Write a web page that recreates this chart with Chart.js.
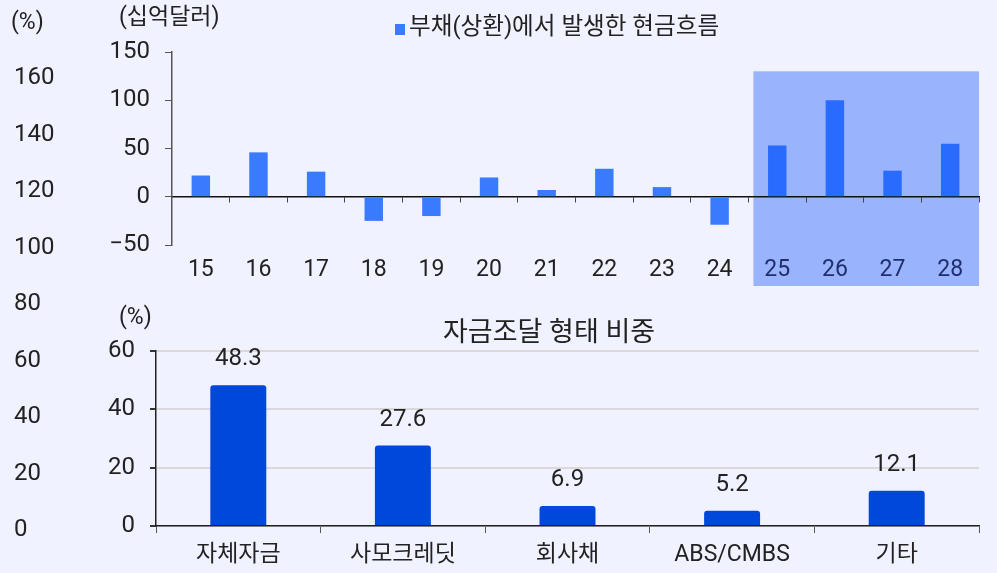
<!DOCTYPE html>
<html lang="ko">
<head>
<meta charset="utf-8">
<script src="https://cdn.jsdelivr.net/npm/chart.js@4.4.1/dist/chart.umd.min.js"></script>
<style>
  body { margin: 0; background: #f0f3ff; font-family: Roboto, "Noto Sans CJK KR", sans-serif; color: #222; }
  #wrap { position: relative; width: 997px; height: 573px; overflow: hidden; }
  canvas { position: absolute; }
  .lbl { position: absolute; white-space: nowrap; line-height: 1; }
  .sq { position: absolute; width: 10px; height: 11px; }
</style>
</head>
<body>
<div id="wrap">
  <canvas id="leftAxis" width="130" height="573" style="left:0;top:0"></canvas>
  <canvas id="cashChart" width="997" height="290" style="left:0;top:0"></canvas>
  <canvas id="shareChart" width="997" height="283" style="left:0;top:290px"></canvas>

  <div class="lbl" style="left:11px;top:10px;font-size:23px">(%)</div>
  <div class="lbl" style="left:119px;top:5px;font-size:23px">(십억달러)</div>
  <div class="sq" id="legendBox" style="left:395px;top:24px"></div>
  <div class="lbl" style="left:409px;top:15px;font-size:23.6px">부채(상환)에서 발생한 현금흐름</div>
  <div class="lbl" style="left:119px;top:305px;font-size:23px">(%)</div>
  <div class="lbl" style="left:443px;top:319px;font-size:27px">자금조달 형태 비중</div>
</div>
<script>
const years = ['15', '16', '17', '18', '19', '20', '21', '22', '23', '24', '25', '26', '27', '28'];
const cashFlow = [22, 46, 26, -25, -20, 20, 7, 29, 10, -29, 53, 100, 27, 55];
const cashTicks = [-50, 0, 50, 100, 150];

const sources = ['자체자금', '사모크레딧', '회사채', 'ABS/CMBS', '기타'];
const shares = [48.3, 27.6, 6.9, 5.2, 12.1];
const shareTicks = [0, 20, 40, 60];

const leftTicks = [0, 20, 40, 60, 80, 100, 120, 140, 160];

const HIGHLIGHT_FROM = 10;   // year 25 onward
const HIGHLIGHT_TOP = 130;
const BAR_BLUE = '#3a7bfd';
const BAR_BLUE_HL = '#2a6bff';
const SHARE_BLUE = '#0047dc';
const TXT = '#222';
const FONT = 'Roboto, "Noto Sans CJK KR", sans-serif';

document.getElementById('legendBox').style.background = BAR_BLUE;

// shaded forecast region behind the top chart
const highlightBox = {
    id: 'highlightBox',
    beforeDraw(chart) {
        const x = chart.scales.x, y = chart.scales.y;
        const half = (x.getPixelForValue(1) - x.getPixelForValue(0)) / 2;
        const left = x.getPixelForValue(HIGHLIGHT_FROM) - half + 5;
        const top = y.getPixelForValue(HIGHLIGHT_TOP);
        const ctx = chart.ctx;
        ctx.save();
        ctx.fillStyle = '#99b3fc';
        ctx.fillRect(left, top, chart.chartArea.right - left, chart.height - 4 - top);
        ctx.restore();
    }
};

// numbers above the bars in the bottom chart
const valueLabels = {
    id: 'valueLabels',
    afterDatasetsDraw(chart) {
        const ctx = chart.ctx;
        const meta = chart.getDatasetMeta(0);
        ctx.save();
        ctx.font = '24px ' + FONT;
        ctx.fillStyle = TXT;
        ctx.textAlign = 'center';
        ctx.textBaseline = 'alphabetic';
        meta.data.forEach((bar, i) => {
            ctx.fillText(shares[i].toFixed(1), bar.x, bar.y - 20);
        });
        ctx.restore();
    }
};

function createLeftAxis() {
    new Chart(document.getElementById('leftAxis'), {
        type: 'line',
        data: { labels: [], datasets: [] },
        options: {
            responsive: false,
            animation: false,
            layout: { padding: { left: 14, top: 78, bottom: 43, right: 0 } },
            plugins: { legend: { display: false }, tooltip: { enabled: false } },
            scales: {
                x: { display: false },
                y: {
                    min: leftTicks[0],
                    max: leftTicks[leftTicks.length - 1],
                    afterBuildTicks: s => { s.ticks = leftTicks.map(v => ({ value: v })); },
                    afterFit: s => { s.width = 60; },
                    border: { display: false },
                    grid: { display: false },
                    ticks: { crossAlign: 'far', color: TXT, font: { family: FONT, size: 24 } }
                }
            }
        }
    });
}

function createCashChart() {
    new Chart(document.getElementById('cashChart'), {
        type: 'bar',
        data: {
            labels: years,
            datasets: [{
                label: '부채(상환)에서 발생한 현금흐름',
                data: cashFlow,
                backgroundColor: years.map((_, i) => i >= HIGHLIGHT_FROM ? BAR_BLUE_HL : BAR_BLUE),
                categoryPercentage: 1,
                barPercentage: 0.32
            }]
        },
        options: {
            responsive: false,
            animation: false,
            layout: { padding: { left: 0, top: 52, right: 18, bottom: 45 } },
            plugins: { legend: { display: false }, tooltip: { enabled: false } },
            scales: {
                x: {
                    position: { y: 0 },
                    offset: true,
                    // labels sit far below the zero line; keep that gap from eating side room
                    afterFit: s => { s.paddingLeft = 0; s.paddingRight = 0; },
                    border: { color: '#111', width: 1.5 },
                    grid: { offset: true, drawOnChartArea: false, drawTicks: true, tickLength: 5, color: '#444' },
                    ticks: {
                        padding: 55,
                        color: c => c.index >= HIGHLIGHT_FROM ? '#1f2f6e' : TXT,
                        font: { family: FONT, size: 23 }
                    }
                },
                y: {
                    min: cashTicks[0],
                    max: cashTicks[cashTicks.length - 1],
                    afterBuildTicks: s => { s.ticks = cashTicks.map(v => ({ value: v })); },
                    afterFit: s => { s.width = 172; },
                    border: { color: '#555', width: 1.5 },
                    grid: { drawOnChartArea: false, tickLength: 7, color: '#555' },
                    ticks: {
                        padding: 15,
                        color: TXT,
                        font: { family: FONT, size: 24 },
                        callback: v => v < 0 ? '\u2212' + Math.abs(v) : v
                    }
                }
            }
        },
        plugins: [highlightBox]
    });
}

function createShareChart() {
    new Chart(document.getElementById('shareChart'), {
        type: 'bar',
        data: {
            labels: sources,
            datasets: [{
                label: '자금조달 형태 비중',
                data: shares,
                backgroundColor: SHARE_BLUE,
                borderRadius: 3,
                categoryPercentage: 1,
                barPercentage: 0.34
            }]
        },
        options: {
            responsive: false,
            animation: false,
            layout: { padding: { left: 0, top: 61, right: 18, bottom: 2 } },
            plugins: { legend: { display: false }, tooltip: { enabled: false } },
            scales: {
                x: {
                    offset: true,
                    afterFit: s => { s.height = 45; },
                    border: { color: '#222', width: 1.5 },
                    grid: { offset: true, drawOnChartArea: false, tickLength: 7, color: '#555' },
                    ticks: { padding: 8, color: TXT, font: { family: FONT, size: 23 } }
                },
                y: {
                    min: shareTicks[0],
                    max: shareTicks[shareTicks.length - 1],
                    afterBuildTicks: s => { s.ticks = shareTicks.map(v => ({ value: v })); },
                    afterFit: s => { s.width = 156; },
                    border: { color: '#222', width: 1.5 },
                    grid: { color: '#d9d9d9', lineWidth: 2, tickColor: '#333', tickLength: 6 },
                    ticks: { padding: 15, color: TXT, font: { family: FONT, size: 24 } }
                }
            }
        },
        plugins: [valueLabels]
    });
}

function initCharts() {
    createLeftAxis();
    createCashChart();
    createShareChart();
}

initCharts();
</script>
</body>
</html>
